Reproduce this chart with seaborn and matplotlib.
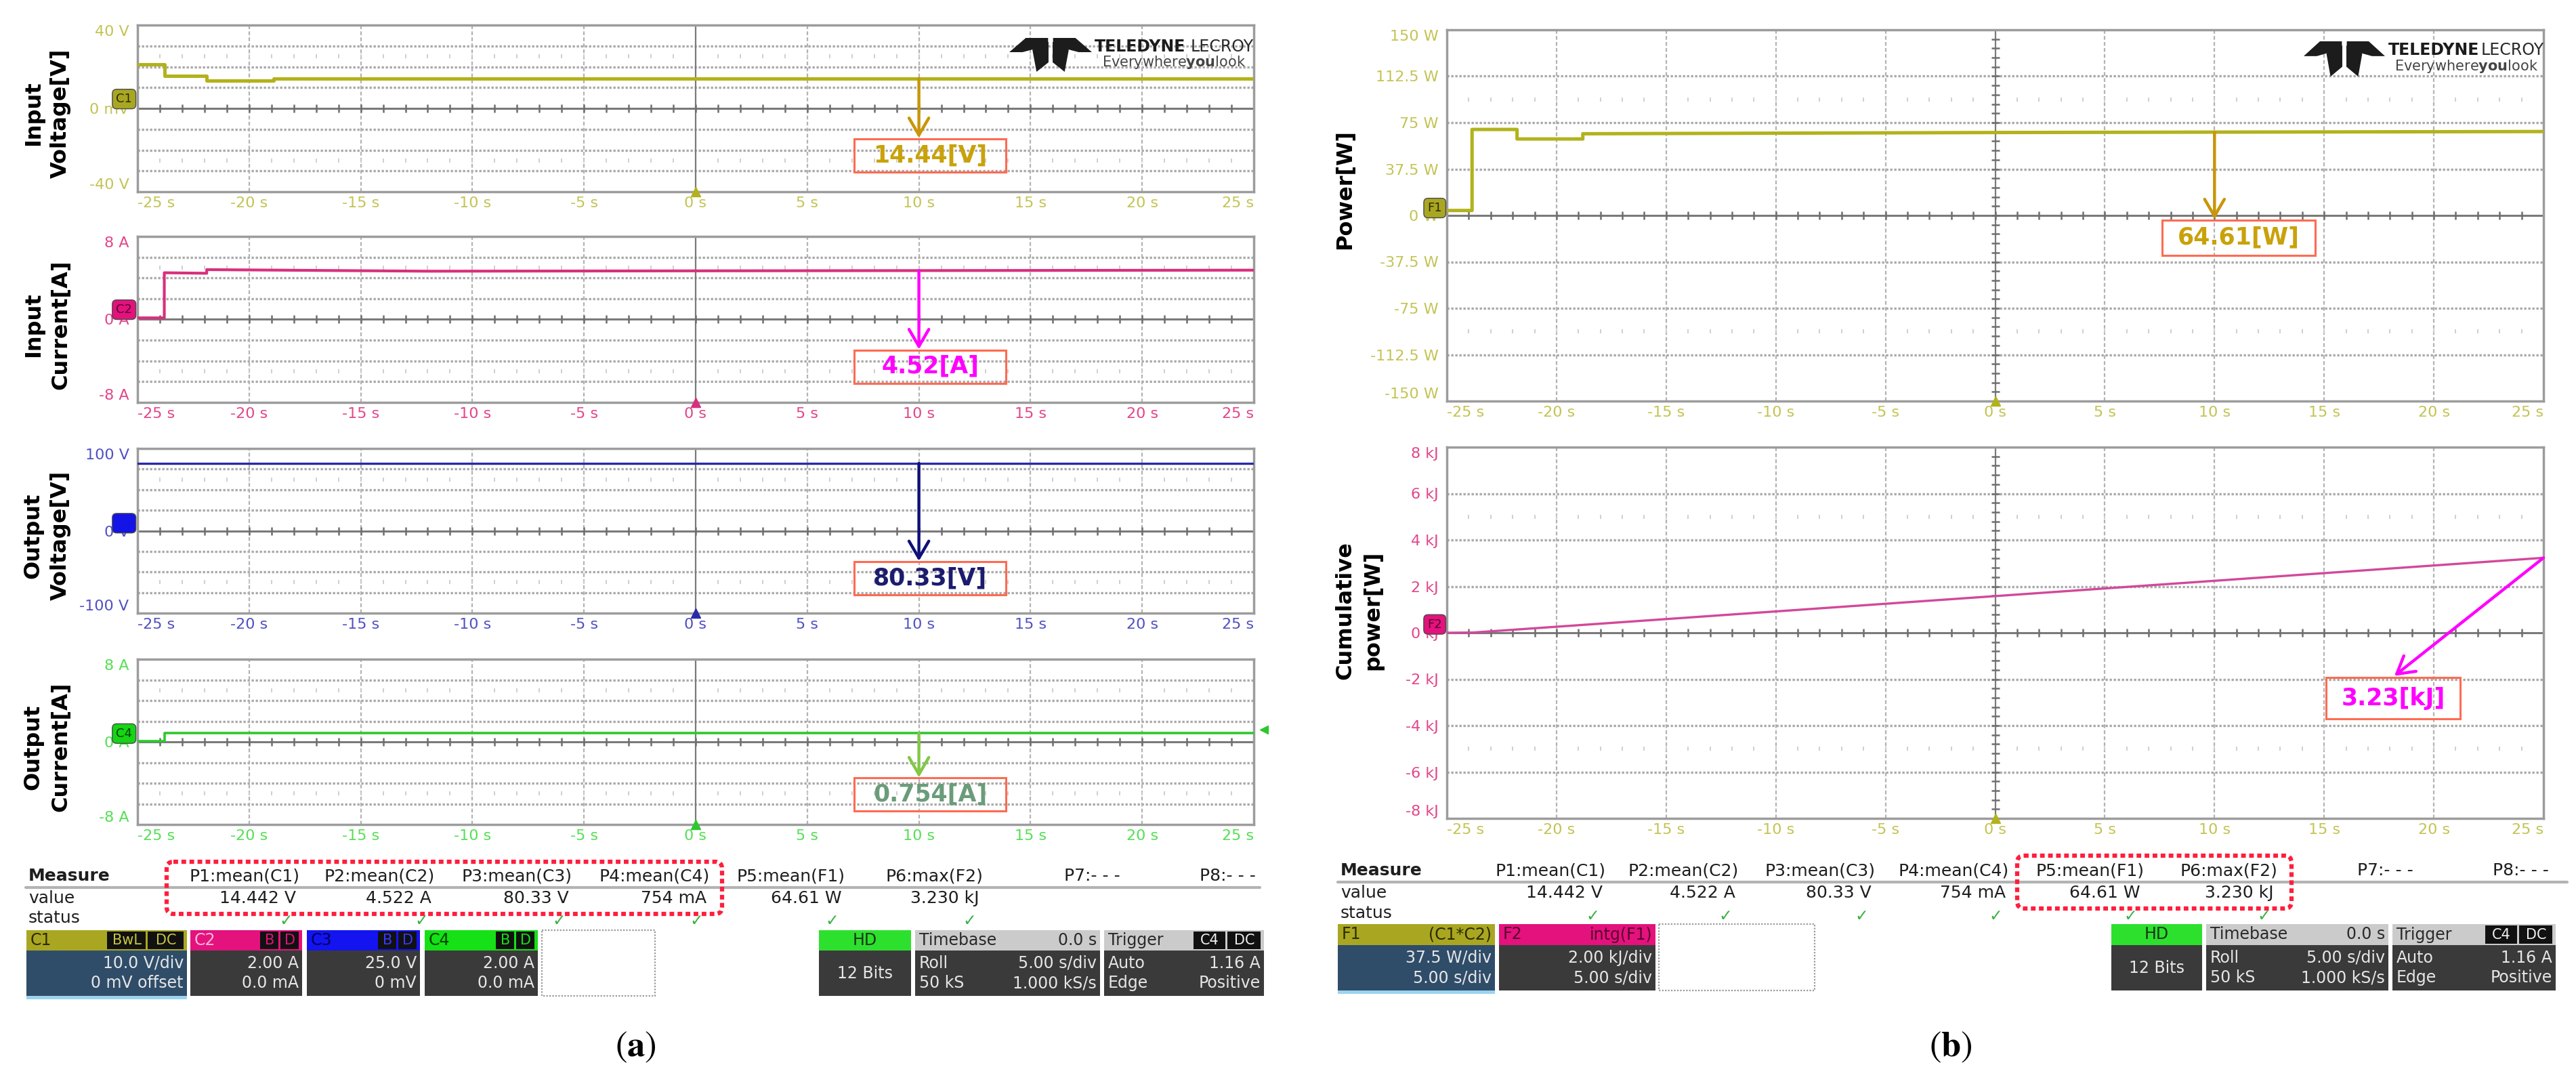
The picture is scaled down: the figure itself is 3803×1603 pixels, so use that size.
import numpy as np
import pandas as pd
import matplotlib
matplotlib.use('Agg')
import matplotlib.pyplot as plt
import matplotlib.transforms as mtransforms
from matplotlib.patches import Rectangle, FancyBboxPatch, Polygon
import seaborn as sns

sns.set_theme(style='white')
plt.rcParams['font.family'] = ['DejaVu Sans']
plt.rcParams['axes.unicode_minus'] = False

W, H = 3803, 1603

# ---------------------------------------------------------------- data
time_ticks = [-25, -20, -15, -10, -5, 0, 5, 10, 15, 20, 25]
time_tick_labels = ['-25 s', '-20 s', '-15 s', '-10 s', '-5 s', '0 s',
                    '5 s', '10 s', '15 s', '20 s', '25 s']

# (a) input voltage C1 [V]
vin_t = [-25.0, -23.8, -23.8, -21.9, -21.9, -18.9, -18.9, 25.0]
vin_v = [21.2, 21.2, 15.5, 15.5, 13.4, 13.4, 14.4, 14.4]
# (a) input current C2 [A]
iin_t = [-25.0, -23.8, -23.8, -21.9, -21.9, -12.0, 25.0]
iin_a = [0.15, 0.15, 4.5, 4.45, 4.8, 4.65, 4.75]
# (a) output voltage C3 [V]
vout_t = [-25.0, 25.0]
vout_v = [82.0, 82.0]
# (a) output current C4 [A]
iout_t = [-25.0, -23.8, -23.8, 25.0]
iout_a = [0.05, 0.05, 0.82, 0.82]
# (b) power F1 [W]
pwr_t = [-25.0, -23.85, -23.85, -21.8, -21.8, -18.8, -18.8, 0.0, 25.0]
pwr_w = [4.0, 4.0, 69.5, 69.5, 61.8, 61.8, 66.0, 67.0, 67.8]
# (b) cumulative energy F2 [kJ]
energy_t = [-25.0, -23.8, -20.0, -10.0, 0.0, 10.0, 25.0]
energy_kj = [0.0, 0.01, 0.26, 0.92, 1.58, 2.24, 3.23]

vin_ticklabels = ['-40 V', '0 mV', '40 V']
iin_ticklabels = ['-8 A', '0 A', '8 A']
vout_ticklabels = ['-100 V', '0 V', '100 V']
iout_ticklabels = ['-8 A', '0 A', '8 A']
pwr_ticklabels = ['-150 W', '-112.5 W', '-75 W', '-37.5 W', '0 W',
                  '37.5 W', '75 W', '112.5 W', '150 W']
energy_ticklabels = ['-8 kJ', '-6 kJ', '-4 kJ', '-2 kJ', '0 kJ',
                     '2 kJ', '4 kJ', '6 kJ', '8 kJ']
per_div = {'vin': 10.0, 'iin': 2.0, 'vout': 25.0, 'iout': 2.0,
           'pwr': 37.5, 'energy': 2.0}

annot_a = ['14.44[V]', '4.52[A]', '80.33[V]', '0.754[A]']
annot_b = ['64.61[W]', '3.23[kJ]']

measure_names = ['P1:mean(C1)', 'P2:mean(C2)', 'P3:mean(C3)',
                 'P4:mean(C4)', 'P5:mean(F1)', 'P6:max(F2)']
measure_values = ['14.442 V', '4.522 A', '80.33 V', '754 mA',
                  '64.61 W', '3.230 kJ']
measure_empty = ['P7:- - -', 'P8:- - -']

channel_names = ['C1', 'C2', 'C3', 'C4']
channel_tags = [['BwL', 'DC'], ['B', 'D'], ['B', 'D'], ['B', 'D']]
channel_scales = ['10.0 V/div', '2.00 A', '25.0 V', '2.00 A']
channel_offsets = ['0 mV offset', '0.0 mA', '0 mV', '0.0 mA']
math_names = ['F1', 'F2']
math_defs = ['(C1*C2)', 'intg(F1)']
math_scales = ['37.5 W/div', '2.00 kJ/div']
math_timebase = ['5.00 s/div', '5.00 s/div']
acq_bits = '12 Bits'
timebase_rows = [('Timebase', '0.0 s'), ('Roll', '5.00 s/div'), ('50 kS', '1.000 kS/s')]
trigger_rows = [('Trigger', ''), ('Auto', '1.16 A'), ('Edge', 'Positive')]
trigger_tags = ['C4', 'DC']
trigger_level_a = 1.16

# ---------------------------------------------------------------- style
OLIVE = '#b2b21c'
OLIVE_LBL = '#c4c354'
PINK = '#d8307c'
PINK_LBL = '#e2468a'
BLUE = '#2a2aa8'
BLUE_LBL = '#5050c4'
GREEN = '#2ec82e'
GREEN_LBL = '#55e055'
BOXRED = '#ff6b52'

fig = plt.figure(figsize=(W / 100, H / 100), dpi=100)
fig.patch.set_facecolor('white')


def px_axes(x0, y0, x1, y1):
    return fig.add_axes([x0 / W, 1 - y1 / H, (x1 - x0) / W, (y1 - y0) / H])


def scope(ax, t, y, trace_color, lw, pdiv, ticklabels, ylab_color, xlab_color,
          full_yticks, vert_ticks, ylabel, label_xy, marker, marker_y,
          marker_fc, marker_tc, marker_x, trig_color):
    sns.lineplot(x=t, y=y, ax=ax, color=trace_color, lw=lw, estimator=None,
                 sort=False, legend=False, zorder=6)
    ax.set_facecolor('white')
    ax.set_xlim(-25, 25)
    ax.set_ylim(-4 * pdiv, 4 * pdiv)
    for k in (-3, -2, -1, 1, 2, 3):
        ax.axhline(k * pdiv, color='#a9a9a9', lw=2.4, ls=(0, (1, 0.8)), zorder=1)
    for tt in time_ticks[1:-1]:
        if tt != 0:
            ax.axvline(tt, color='#b3b3b3', lw=1.6, ls=(0, (2.5, 1.5)), zorder=1)
    ax.axhline(0, color='#7a7a7a', lw=2.2, zorder=1.5)
    ax.axvline(0, color='#7a7a7a', lw=1.6, zorder=1.5)
    minor = np.arange(-24, 25)
    ax.plot(minor, np.zeros(minor.size), ls='none', marker='|', ms=8, mew=1.8,
            color='#6e6e6e', zorder=1.5)
    for s in (2.5, -2.5):
        ax.plot(minor, np.full(minor.size, s * pdiv), ls='none', marker='|',
                ms=5, mew=1.3, color='#cccccc', zorder=1)
    if vert_ticks:
        vm = np.arange(-19, 20) * pdiv / 5
        ax.plot(np.zeros(vm.size), vm, ls='none', marker='_', ms=8, mew=1.8,
                color='#6e6e6e', zorder=1.5)
    ax.set_xticks(time_ticks)
    ax.set_xticklabels(time_tick_labels)
    yt = np.arange(-4, 5) * pdiv if full_yticks else np.array([-4, 0, 4]) * pdiv
    ax.set_yticks(yt)
    ax.set_yticklabels(ticklabels)
    ax.tick_params(axis='both', length=0, labelsize=16)
    ax.tick_params(axis='x', pad=5, labelcolor=xlab_color)
    ax.tick_params(axis='y', pad=9, labelcolor=ylab_color)
    xl = ax.get_xticklabels()
    xl[0].set_horizontalalignment('left')
    xl[-1].set_horizontalalignment('right')
    yl = ax.get_yticklabels()
    yl[0].set_verticalalignment('bottom')
    yl[-1].set_verticalalignment('top')
    for sp in ax.spines.values():
        sp.set_visible(True)
        sp.set_color('#9c9c9c')
        sp.set_linewidth(2.5)
    ax.grid(False)
    ax.set_xlabel('')
    ax.set_ylabel(ylabel, fontsize=23, fontweight='bold', color='black',
                  linespacing=1.4, va='center')
    ax.yaxis.set_label_coords(*label_xy)
    trans = mtransforms.blended_transform_factory(ax.transAxes, ax.transData)
    ax.text(marker_x, marker_y, marker, transform=trans, fontsize=13,
            color=marker_tc, ha='center', va='center', zorder=30, clip_on=False,
            bbox=dict(boxstyle='round,pad=0.3,rounding_size=0.35', fc=marker_fc,
                      ec='#4a4a4a', lw=1))
    ax.plot([0], [-4 * pdiv], marker='^', ms=10, color=trig_color, ls='none',
            clip_on=False, zorder=30)


def value_box(ax, pdiv, t0, t1, yc_div, hh_div, text, tcolor):
    ax.add_patch(Rectangle((t0, (yc_div - hh_div) * pdiv), t1 - t0,
                           2 * hh_div * pdiv, fc='none', ec=BOXRED, lw=2.2,
                           zorder=31))
    ax.text((t0 + t1) / 2, yc_div * pdiv, text, color=tcolor, fontsize=25,
            fontweight='bold', ha='center', va='center', zorder=32)


def arrow(ax, x_from, y_from, x_to, y_to, color):
    ax.annotate('', xy=(x_to, y_to), xytext=(x_from, y_from), zorder=33,
                arrowprops=dict(arrowstyle='->,head_length=0.6,head_width=0.35',
                                lw=3.2, color=color, mutation_scale=30,
                                shrinkA=0, shrinkB=0))


# ---------------------------------------------------------------- (a) panels
LX0, LX1 = 203, 1851
left_rows = [(37, 283), (349, 594), (662, 905), (973, 1217)]
left_specs = [
    dict(t=vin_t, y=vin_v, c=OLIVE, k='vin', tl=vin_ticklabels, yc=OLIVE_LBL,
         lab='Input\nVoltage[V]', mk='C1', my=0.45, mfc='#a9a722', mtc='#2b2b00',
         trig=OLIVE, ann=annot_a[0], tcol='#c9a20a', acol='#c8960a', by=-2.25,
         lw=3.6),
    dict(t=iin_t, y=iin_a, c=PINK, k='iin', tl=iin_ticklabels, yc=PINK_LBL,
         lab='Input\nCurrent[A]', mk='C2', my=0.47, mfc='#e3127c', mtc='#5a0030',
         trig=PINK, ann=annot_a[1], tcol='#ff00ff', acol='#ff00ff', by=-2.27,
         lw=3.0),
    dict(t=vout_t, y=vout_v, c=BLUE, k='vout', tl=vout_ticklabels, yc=BLUE_LBL,
         lab='Output\nVoltage[V]', mk='C3', my=0.37, mfc='#1414e6', mtc='#1414e6',
         trig=BLUE, ann=annot_a[2], tcol='#1c1c6e', acol='#10107a', by=-2.3,
         lw=2.4),
    dict(t=iout_t, y=iout_a, c=GREEN, k='iout', tl=iout_ticklabels, yc=GREEN_LBL,
         lab='Output\nCurrent[A]', mk='C4', my=0.4, mfc='#16d416', mtc='#004400',
         trig=GREEN, ann=annot_a[3], tcol='#6a9c7a', acol='#82c846', by=-2.55,
         lw=2.6),
]
left_axes = []
for (y0, y1), s in zip(left_rows, left_specs):
    ax = px_axes(LX0, y0, LX1, y1)
    pdiv = per_div[s['k']]
    scope(ax, s['t'], s['y'], s['c'], s['lw'], pdiv, s['tl'], s['yc'], s['yc'],
          False, False, s['lab'], (-0.081, 0.47), s['mk'], s['my'] * pdiv,
          s['mfc'], s['mtc'], -0.012, s['trig'])
    level = float(np.interp(10, s['t'], s['y']))
    value_box(ax, pdiv, 7.1, 13.9, s['by'], 0.8, s['ann'], s['tcol'])
    arrow(ax, 10, level, 10, (s['by'] + 0.83) * pdiv, s['acol'])
    left_axes.append(ax)

# trigger level marker (C4)
left_axes[3].plot([25.45], [trigger_level_a], marker='<', ms=9, color=GREEN,
                  ls='none', clip_on=False, zorder=30)

# ---------------------------------------------------------------- (b) panels
RX0, RX1 = 2136, 3755
axp = px_axes(RX0, 44, RX1, 592)
pd_p = per_div['pwr']
scope(axp, pwr_t, pwr_w, OLIVE, 3.6, pd_p, pwr_ticklabels, OLIVE_LBL, OLIVE_LBL,
      True, True, 'Power[W]', (-0.093, 0.57), 'F1', 0.16 * pd_p, '#a9a722',
      '#2b2b00', -0.011, OLIVE)
value_box(axp, pd_p, 7.6, 14.6, -0.48, 0.375, annot_b[0], '#c9a20a')
arrow(axp, 10, float(np.interp(10, pwr_t, pwr_w)), 10, (-0.48 + 0.4) * pd_p, '#c8960a')

axe = px_axes(RX0, 660, RX1, 1208)
pd_e = per_div['energy']
scope(axe, energy_t, energy_kj, '#d2489a', 2.4, pd_e, energy_ticklabels, PINK_LBL,
      OLIVE_LBL, True, True, 'Cumulative\npower[W]', (-0.080, 0.56), 'F2',
      0.18 * pd_e, '#e3127c', '#5a0030', -0.011, OLIVE)
value_box(axe, pd_e, 15.1, 21.2, -1.41, 0.445, annot_b[1], '#ff00ff')
arrow(axe, energy_t[-1], energy_kj[-1], 18.2, -0.93 * pd_e, '#ff00ff')

# ---------------------------------------------------------------- overlay
fg = fig.add_axes([0, 0, 1, 1], zorder=50)
fg.set_xlim(0, W)
fg.set_ylim(H, 0)
fg.axis('off')
fg.patch.set_alpha(0)


def draw_logo(x0, y0, w, h, tx, ty1, ty2, tw):
    shapes = [
        [(0.0, 0.42), (0.2, 0.0), (0.47, 0.0), (0.47, 0.22), (0.16, 0.42)],
        [(1.0, 0.42), (0.8, 0.0), (0.53, 0.0), (0.53, 0.22), (0.84, 0.42)],
        [(0.38, 0.12), (0.475, 0.12), (0.475, 0.72), (0.33, 1.0), (0.28, 0.35)],
        [(0.525, 0.12), (0.62, 0.12), (0.72, 0.35), (0.67, 1.0), (0.525, 0.72)],
    ]
    for sh in shapes:
        fg.add_patch(Polygon([(x0 + u * w, y0 + v * h) for u, v in sh],
                             closed=True, fc='#1c1c1c', ec='none'))
    fg.text(tx, ty1, 'TELEDYNE', fontsize=17, fontweight='bold', color='#1c1c1c',
            ha='left', va='center')
    fg.text(tx + tw, ty1, 'LECROY', fontsize=17, color='#2a2a2a', ha='right',
            va='center')
    fg.text(tx + tw / 2, ty2, r'Everywhere$\mathbf{you}$look', fontsize=15,
            color='#444444', ha='center', va='center', math_fontfamily='dejavusans')


draw_logo(1490, 56, 122, 50, 1616, 69, 92, 235)
draw_logo(3401, 61, 120, 52, 3526, 74, 98, 230)


def measure_table(xm, y_head, y_line, y_val, y_stat, ends, p78_ends, lx0, lx1, rb):
    kw = dict(fontsize=18, color='#1e1e1e', va='center')
    fg.text(xm, y_head, 'Measure', fontweight='bold', ha='left', **kw)
    fg.text(xm, y_val, 'value', ha='left', **kw)
    fg.text(xm, y_stat, 'status', ha='left', **kw)
    for e, name, val in zip(ends, measure_names, measure_values):
        fg.text(e, y_head, name, ha='right', **kw)
        fg.text(e - 5, y_val, val, ha='right', **kw)
        fg.text(e - 20, y_stat + 4, '\u2713', fontsize=17, fontweight='bold',
                color='#3cb043', ha='center', va='center')
    for e, name in zip(p78_ends, measure_empty):
        fg.text(e, y_head, name, ha='right', **kw)
    fg.plot([lx0, lx1], [y_line, y_line], color='#b3b3b3', lw=3)
    x0, y0, x1, y1 = rb
    fg.add_patch(FancyBboxPatch((x0, y0), x1 - x0, y1 - y0,
                                boxstyle='round,pad=0,rounding_size=10', fc='none',
                                ec='#ff1e3c', lw=4.5, ls=(0, (1.1, 0.8)), zorder=5))


def chan_box(x0, x1, y0, yh, y1, head_fc, title, title_c, head_right, head_right_c,
             tags, tag_w, tag_c, body_fc, rows, centered=None, strip=None):
    fg.add_patch(Rectangle((x0, y0), x1 - x0, yh - y0, fc=head_fc, ec='none'))
    fg.add_patch(Rectangle((x0, yh), x1 - x0, y1 - yh, fc=body_fc, ec='none'))
    ym = (y0 + yh) / 2
    if centered is not None:
        fg.text((x0 + x1) / 2, ym, title, fontsize=17, color=title_c, ha='center',
                va='center')
        fg.text((x0 + x1) / 2, (yh + y1) / 2, centered, fontsize=17,
                color='#e6e6e6', ha='center', va='center')
        return
    fg.text(x0 + 6, ym, title, fontsize=17, color=title_c, ha='left', va='center')
    xr = x1 - 2
    for tag, tw in zip(tags[::-1], tag_w[::-1]):
        fg.add_patch(Rectangle((xr - tw, y0 + 2), tw - 3, yh - y0 - 4, fc='#111111',
                               ec='none'))
        fg.text(xr - tw / 2 - 1, ym, tag, fontsize=15, color=tag_c, ha='center',
                va='center')
        xr -= tw
    if head_right:
        fg.text(x1 - 5, ym, head_right, fontsize=17, color=head_right_c,
                ha='right', va='center')
    bh = y1 - yh
    for (lt, rt), f in zip(rows, (0.28, 0.72)):
        yy = yh + f * bh
        if lt:
            fg.text(x0 + 6, yy, lt, fontsize=17, color='#e6e6e6', ha='left',
                    va='center')
        if rt:
            fg.text(x1 - 5, yy, rt, fontsize=17, color='#e6e6e6', ha='right',
                    va='center')
    if strip:
        fg.add_patch(Rectangle((x0, y1), x1 - x0, 5, fc=strip, ec='none'))


def empty_box(x0, x1, y0, y1):
    fg.add_patch(Rectangle((x0, y0), x1 - x0, y1 - y0, fc='white', ec='#9a9a9a',
                           lw=1.6, ls=(0, (1, 1))))


def acq_boxes(hd, tb, tr, y0, yh, y1):
    chan_box(hd[0], hd[1], y0, yh, y1, '#2ee02e', 'HD', '#143814', '', '', [], [],
             '', '#3a3a3a', [], centered=acq_bits)
    chan_box(tb[0], tb[1], y0, yh, y1, '#cbcbcb', timebase_rows[0][0], '#2a2a2a',
             timebase_rows[0][1], '#2a2a2a', [], [], '', '#3a3a3a',
             timebase_rows[1:])
    chan_box(tr[0], tr[1], y0, yh, y1, '#cbcbcb', trigger_rows[0][0], '#2a2a2a',
             '', '', trigger_tags, [50, 52], '#f0f0f0', '#3a3a3a', trigger_rows[1:])


# (a) table
measure_table(42, 1293, 1310, 1326, 1355,
              [442, 642, 845, 1048, 1248, 1451], [1654, 1854], 38, 1860,
              (246, 1272, 1066, 1349))
ya0, yah, ya1 = 1373, 1403, 1470
a_boxes = [(39, 276, '#a9a722', '#2b2b00', '#c8c640', [60, 56], '#2f4d69', '#9ad4ef'),
           (281, 446, '#e3127c', '#ffb6da', '#e3127c', [30, 30], '#3a3a3a', None),
           (453, 620, '#1414f0', '#000060', '#3a3aff', [30, 30], '#3a3a3a', None),
           (627, 794, '#16e016', '#004400', '#16e016', [30, 30], '#3a3a3a', None)]
for (x0, x1, hfc, tc, tagc, tw, bfc, strip), nm, tags, sc, off in zip(
        a_boxes, channel_names, channel_tags, channel_scales, channel_offsets):
    chan_box(x0, x1, ya0, yah, ya1, hfc, nm, tc, '', '', tags, tw, tagc, bfc,
             [('', sc), ('', off)], strip=strip)
empty_box(800, 967, ya0, ya1)
acq_boxes((1209, 1345), (1351, 1624), (1630, 1866), ya0, yah, ya1)

# (b) table
measure_table(1979, 1285, 1302, 1318, 1348,
              [2371, 2567, 2768, 2966, 3165, 3362], [3563, 3763], 1975, 3790,
              (2978, 1263, 3383, 1341))
yb0, ybh, yb1 = 1364, 1395, 1462
b_boxes = [(1975, 2207, '#a9a722', '#2b2b00', '#2f4d69', '#9ad4ef'),
           (2213, 2444, '#e3127c', '#5a0030', '#3a3a3a', None)]
for (x0, x1, hfc, tc, bfc, strip), nm, dfn, sc, tb in zip(
        b_boxes, math_names, math_defs, math_scales, math_timebase):
    chan_box(x0, x1, yb0, ybh, yb1, hfc, nm, tc, dfn, tc, [], [], '', bfc,
             [('', sc), ('', tb)], strip=strip)
empty_box(2449, 2679, yb0, yb1)
acq_boxes((3117, 3251), (3257, 3526), (3532, 3773), yb0, ybh, yb1)

# sub-figure captions
fg.text(938, 1545, r'$(\mathbf{a})$', fontsize=38, ha='center', va='center',
        math_fontfamily='stix', color='black')
fg.text(2880, 1545, r'$(\mathbf{b})$', fontsize=38, ha='center', va='center',
        math_fontfamily='stix', color='black')

fig.savefig('out.png', dpi=100, facecolor='white')
